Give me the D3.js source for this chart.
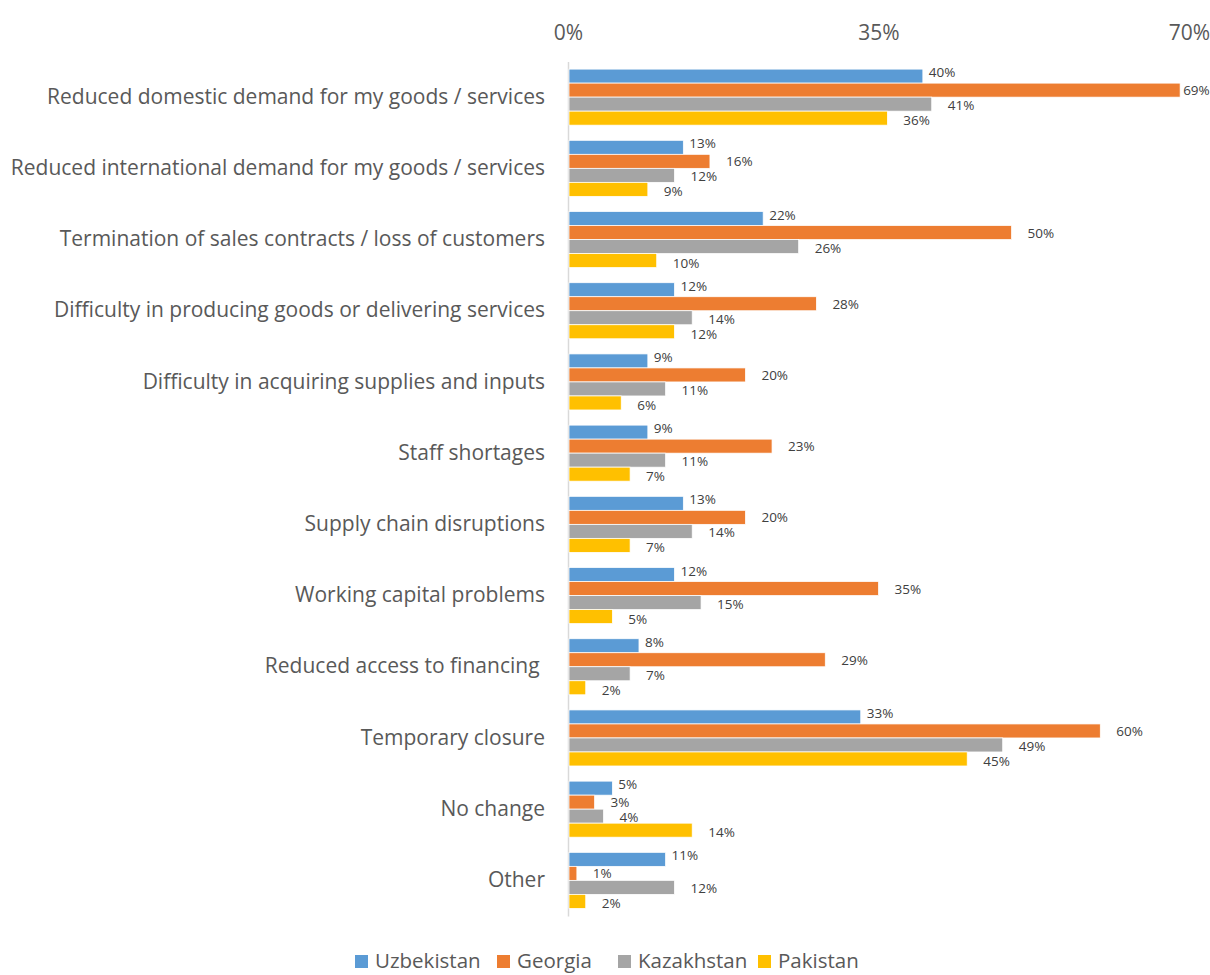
<!DOCTYPE html>
<html>
<head>
<meta charset="utf-8">
<script src="https://cdn.jsdelivr.net/npm/d3@7"></script>
<style>
  html, body { margin: 0; padding: 0; background: #fff; }
  svg { display: block; font-family: "Open Sans", "Noto Sans", sans-serif; }
  text { white-space: pre; }
</style>
</head>
<body>
<svg id="chart" width="1210" height="975"></svg>
<script>
// Impact categories, top to bottom
const categories = [
  "Reduced domestic demand for my goods / services",
  "Reduced international demand for my goods / services",
  "Termination of sales contracts / loss of customers",
  "Difficulty in producing goods or delivering services",
  "Difficulty in acquiring supplies and inputs",
  "Staff shortages",
  "Supply chain disruptions",
  "Working capital problems",
  "Reduced access to financing ",
  "Temporary closure",
  "No change",
  "Other"
];

const seriesNames = ["Uzbekistan", "Georgia", "Kazakhstan", "Pakistan"];

// Share of firms (%) per category
const uzbekistan = [40, 13, 22, 12, 9, 9, 13, 12, 8, 33, 5, 11];
const georgia    = [69, 16, 50, 28, 20, 23, 20, 35, 29, 60, 3, 1];
const kazakhstan = [41, 12, 26, 14, 11, 11, 14, 15, 7, 49, 4, 12];
const pakistan   = [36, 9, 10, 12, 6, 7, 7, 5, 2, 45, 14, 2];

const axisTicks = [0, 35, 70];

const seriesValues = [uzbekistan, georgia, kazakhstan, pakistan];
const colors = ["#5B9BD5", "#ED7D31", "#A5A5A5", "#FFC000"];

const svg = d3.select("#chart");
const W = 1210;

const x = d3.scaleLinear().domain([0, 70]).range([568, 1189]);
const y = d3.scaleBand().domain(categories).range([61.5, 916])
  .paddingInner(0.213).paddingOuter(0.107);
const ySub = d3.scaleBand().domain(seriesNames).range([0, y.bandwidth()]);
const color = d3.scaleOrdinal().domain(seriesNames).range(colors);

// Top percentage axis (labels only)
const xAxis = d3.axisTop(x).tickValues(axisTicks).tickFormat(d => d + "%").tickSize(0).tickPadding(0);
const gx = svg.append("g").attr("transform", "translate(0,40)").call(xAxis);
gx.select(".domain").remove();
gx.selectAll("text")
  .attr("font-size", 21).attr("fill", "#595959")
  .style("font-family", "\"Open Sans\", sans-serif");

// Category axis (labels on the left, vertical line at zero)
const yAxis = d3.axisLeft(y).tickSize(0).tickPadding(23);
const gy = svg.append("g").attr("transform", `translate(${x(0)},0)`).call(yAxis);
gy.select(".domain").attr("stroke", "#D9D9D9").attr("stroke-width", 1.5);
gy.selectAll("text")
  .attr("font-size", 21).attr("fill", "#595959")
  .style("font-family", "\"Open Sans\", sans-serif");

// Rows of data: one record per (category, series)
const rows = [];
categories.forEach((c, i) => {
  seriesNames.forEach((s, j) => rows.push({ cat: c, series: s, idx: j, value: seriesValues[j][i] }));
});

// Bars
svg.append("g").selectAll("rect").data(rows).join("rect")
  .attr("x", x(0) + 1)
  .attr("y", d => y(d.cat) + ySub(d.series))
  .attr("width", d => x(d.value) - x(0) - 1)
  .attr("height", ySub.bandwidth())
  .attr("fill", d => color(d.series))
  .attr("stroke", "#fff").attr("stroke-width", 0.75);

// Value labels at the bar ends
const labelShift = [
  { dx: 6, dy: -4 },
  { dx: 16, dy: 0 },
  { dx: 16, dy: 1 },
  { dx: 16, dy: 2 }
];
const labels = svg.append("g").selectAll("text").data(rows).join("text")
  .attr("y", d => y(d.cat) + ySub(d.series) + ySub.bandwidth() / 2 + labelShift[d.idx].dy)
  .attr("dominant-baseline", "central")
  .attr("font-size", 13.5).attr("fill", "#404040")
  .text(d => d.value + "%");
labels.each(function(d) {
  const w = this.getComputedTextLength();
  let lx = x(d.value) + labelShift[d.idx].dx;
  if (lx + w > W - 4) lx = Math.max(x(d.value) + 3, W - 4 - w);
  d3.select(this).attr("x", lx);
});

// Legend along the bottom edge
const legendItems = [
  { name: "Uzbekistan", x: 355 },
  { name: "Georgia", x: 497 },
  { name: "Kazakhstan", x: 618 },
  { name: "Pakistan", x: 758 }
];
const lg = svg.append("g").selectAll("g").data(legendItems).join("g")
  .attr("transform", d => `translate(${d.x},955)`);
lg.append("rect").attr("width", 13).attr("height", 13).attr("fill", d => color(d.name));
lg.append("text").attr("x", 20).attr("y", 13)
  .attr("font-size", 20.5).attr("fill", "#595959").text(d => d.name);
</script>
</body>
</html>
